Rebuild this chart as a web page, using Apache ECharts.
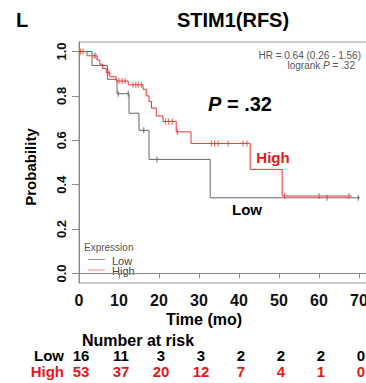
<!DOCTYPE html>
<html><head><meta charset="utf-8">
<script src="https://cdn.jsdelivr.net/npm/echarts@6/dist/echarts.min.js"></script>
<style>html,body{margin:0;padding:0;background:#fff;overflow:hidden}#c{width:366px;height:383px}</style>
</head><body><div id="c"></div>
<script>
const xTicks = [0, 10, 20, 30, 40, 50, 60, 70];
const yTicks = [0, 0.2, 0.4, 0.6, 0.8, 1.0];
const lowTimes = [0, 3.25, 7.1, 9.5, 12.5, 15.0, 17.5, 32.8, 70.3];
const lowSurv  = [1, 0.9375, 0.875, 0.81, 0.722, 0.645, 0.514, 0.341, 0.341];
const lowCensor = [9.8, 12.3, 16.2, 19.5, 62, 69.8];
const highTimes = [0, 2.0, 4.5, 5.2, 5.9, 6.8, 7.7, 9.3, 12.3, 16.0, 16.8, 17.5, 18.1, 19.3, 21.0, 24.3, 28.0, 42.8, 50.8, 68.2];
const highSurv  = [1, 0.981, 0.962, 0.943, 0.924, 0.905, 0.886, 0.867, 0.850, 0.830, 0.800, 0.775, 0.745, 0.710, 0.685, 0.638, 0.586, 0.469, 0.349, 0.349];
const highCensor = [0.4, 1.0, 3.8, 4.2, 7.5, 10.0, 10.8, 11.5, 13.5, 14.2, 14.8, 15.6, 21.6, 22.4, 23.3, 24.6, 33.1, 33.9, 34.8, 37.3, 41.0, 42.0, 51.4, 60.0, 67.5];
const riskLow  = [16, 11, 3, 3, 2, 2, 2, 0];
const riskHigh = [53, 37, 20, 12, 7, 4, 1, 0];
const legendNames = ['Low', 'High'];

const FONT = '"Liberation Sans", Arial, sans-serif';
const RED = '#f03030';
const GREY = '#666';
const LEG_COLORS = ['#999', '#f88'];

function survAt(times, surv, t) {
  let v = surv[0];
  for (let i = 0; i < times.length; i++) { if (times[i] <= t) v = surv[i]; }
  return v;
}
const zip = (a, b) => a.map((v, i) => [v, b[i]]);

const chart = echarts.init(document.getElementById('c'), null, {renderer: 'svg'});
const option = {
  animation: false,
  backgroundColor: '#fff',
  textStyle: {fontFamily: FONT},
  grid: {left: 79, top: 42, width: 288, height: 241, show: true, borderColor: '#999', borderWidth: 1,
    backgroundColor: 'transparent', outerBoundsMode: 'none', containLabel: false},
  xAxis: {
    type: 'value', min: 0, max: 72,
    axisLine: {show: true, lineStyle: {color: '#888'}},
    axisTick: {show: true, customValues: xTicks, length: 5, lineStyle: {color: '#888'}},
    axisLabel: {customValues: xTicks, fontSize: 16, fontWeight: 'bold', color: '#111', margin: 9, fontFamily: FONT, hideOverlap: false},
    splitLine: {show: false}
  },
  yAxis: {
    type: 'value', min: -0.043, max: 1.043,
    axisLine: {show: true, lineStyle: {color: '#888'}},
    axisTick: {show: true, customValues: yTicks, length: 7, lineStyle: {color: '#888'}},
    axisLabel: {customValues: yTicks, rotate: 90, fontSize: 13, fontWeight: 'bold', color: '#111', margin: 11, fontFamily: FONT,
      formatter: v => v.toFixed(1)},
    splitLine: {show: false}
  },
  series: [
    {name: 'Low', type: 'line', step: 'end', symbol: 'none', data: zip(lowTimes, lowSurv),
      lineStyle: {color: GREY, width: 1}, itemStyle: {color: GREY}},
    {name: 'High', type: 'line', step: 'end', symbol: 'none', data: zip(highTimes, highSurv),
      lineStyle: {color: RED, width: 1}, itemStyle: {color: RED}},
    {name: 'LowCensor', type: 'scatter', symbol: 'rect', symbolSize: [1, 6],
      data: lowCensor.map(t => [t, survAt(lowTimes, lowSurv, t)]), itemStyle: {color: '#444'}},
    {name: 'HighCensor', type: 'scatter', symbol: 'rect', symbolSize: [1, 6],
      data: highCensor.map(t => [t, survAt(highTimes, highSurv, t)]), itemStyle: {color: RED}}
  ]
};
chart.setOption(option);

const txt = (x, y, text, s) => ({type: 'text', x: x, y: y, rotation: s.rotation || 0, silent: true,
  style: Object.assign({text: text, fontFamily: FONT, textAlign: 'center', textVerticalAlign: 'middle', fill: '#000'}, s.style)});

const g = [
  txt(22, 20, 'L', {style: {fontSize: 20, fontWeight: 'bold'}}),
  txt(233, 20, 'STIM1(RFS)', {style: {fontSize: 20, fontWeight: 'bold'}}),
  txt(30, 167, 'Probability', {rotation: Math.PI / 2, style: {fontSize: 15, fontWeight: 'bold'}}),
  txt(361, 55, 'HR = 0.64 (0.26 - 1.56)', {style: {fontSize: 10, fill: '#555', textAlign: 'right'}}),
  {type: 'text', x: 355, y: 65, silent: true, style: {text: '{n|logrank }{i|P}{n| = .32}', textAlign: 'right', textVerticalAlign: 'middle',
    rich: {n: {fontSize: 10, fill: '#555', fontFamily: FONT}, i: {fontSize: 10, fill: '#555', fontStyle: 'italic', fontFamily: FONT}}}},
  {type: 'text', x: 240, y: 104, silent: true, style: {text: '{i|P}{n| = .32}', textAlign: 'center', textVerticalAlign: 'middle',
    rich: {n: {fontSize: 20, fontWeight: 'bold', fill: '#000', fontFamily: FONT}, i: {fontSize: 20, fontWeight: 'bold', fontStyle: 'italic', fill: '#000', fontFamily: FONT}}}},
  txt(273, 157, 'High', {style: {fontSize: 15, fontWeight: 'bold', fill: '#e81818'}}),
  txt(247, 209, 'Low', {style: {fontSize: 15, fontWeight: 'bold'}}),
  txt(84, 247, 'Expression', {style: {fontSize: 10, fill: '#555', textAlign: 'left'}}),
  txt(204, 319, 'Time (mo)', {style: {fontSize: 16, fontWeight: 'bold'}}),
  txt(138, 340, 'Number at risk', {style: {fontSize: 16, fontWeight: 'bold'}}),
  txt(64, 355.5, 'Low', {style: {fontSize: 15, lineHeight: 14, fontWeight: 'bold', textAlign: 'right'}}),
  txt(64, 371.5, 'High', {style: {fontSize: 15, lineHeight: 14, fontWeight: 'bold', textAlign: 'right', fill: '#e81818'}})
];
legendNames.forEach((name, i) => {
  const y = 259.5 + i * 10.5;
  g.push({type: 'line', silent: true, shape: {x1: 88, y1: y, x2: 105, y2: y}, style: {stroke: LEG_COLORS[i], lineWidth: 1}});
  g.push(txt(112, y + 1, name, {style: {fontSize: 11, lineHeight: 10, fill: '#444', textAlign: 'left'}}));
});
xTicks.forEach((t, i) => {
  const px = chart.convertToPixel({xAxisIndex: 0}, t);
  g.push(txt(px + 2, 355.5, String(riskLow[i]), {style: {fontSize: 15, lineHeight: 14, fontWeight: 'bold'}}));
  g.push(txt(px + 2, 371.5, String(riskHigh[i]), {style: {fontSize: 15, lineHeight: 14, fontWeight: 'bold', fill: '#e81818'}}));
});
chart.setOption({graphic: g});
</script></body></html>
